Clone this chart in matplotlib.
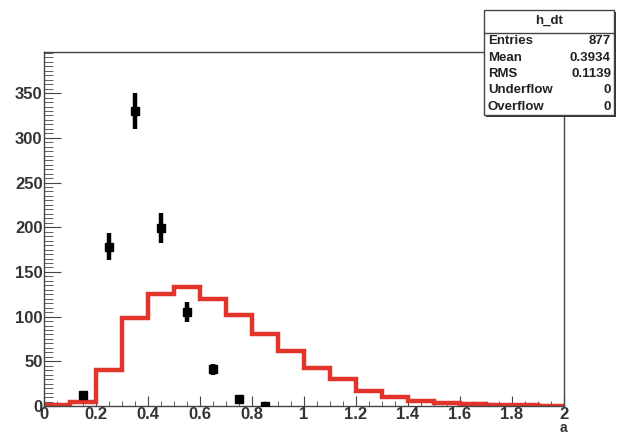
import matplotlib
matplotlib.use('Agg')
import matplotlib.pyplot as plt
from matplotlib.patches import Rectangle
from matplotlib.ticker import MultipleLocator
from matplotlib.transforms import ScaledTranslation

plt.rcParams['font.family'] = ['Liberation Sans']
plt.rcParams['font.weight'] = 'bold'

# red histogram, bins of 0.1 between 0 and 2
bin_edges = [i * 0.1 for i in range(21)]
mc_counts = [1, 4, 40, 99, 125, 133, 120, 102, 80, 61, 43, 30, 17, 10, 6, 3, 2, 1, 1, 0]

# black data points
data_x = [0.15, 0.25, 0.35, 0.45, 0.55, 0.65, 0.75, 0.85]
data_y = [12, 178, 330, 199, 105, 41, 8, 0]
data_err = [4, 15, 20, 17, 11, 6, 3, 0]

stats_title = 'h_dt'
stats_names = ['Entries', 'Mean', 'RMS', 'Underflow', 'Overflow']
stats_values = ['877', '0.3934', '0.1139', '0', '0']

W, H = 622, 436
fig = plt.figure(figsize=(W / 100, H / 100), dpi=100)
ax = fig.add_axes([44 / W, 1 - 406 / H, (564 - 44) / W, (406 - 52) / H])

ax.stairs(mc_counts, bin_edges, color='#e3342c', linewidth=3.2, zorder=2)
ax.errorbar(data_x, data_y, yerr=data_err, fmt='s', color='black', ms=6,
            elinewidth=3.2, capsize=0, zorder=3)

ax.set_xlim(0, 2)
ax.set_ylim(0, 396)
ax.xaxis.set_minor_locator(MultipleLocator(0.05))
ax.yaxis.set_major_locator(MultipleLocator(50))
ax.yaxis.set_minor_locator(MultipleLocator(5))
ax.set_xticks([0, 0.2, 0.4, 0.6, 0.8, 1, 1.2, 1.4, 1.6, 1.8, 2])
ax.set_xticklabels(['0', '0.2', '0.4', '0.6', '0.8', '1', '1.2', '1.4', '1.6', '1.8', '2'])

ax.tick_params(axis='both', which='both', direction='in', color='#444444',
               labelcolor='#333333', labelsize=12)
ax.tick_params(axis='x', which='major', length=7, pad=1)
ax.tick_params(axis='x', which='minor', length=3.5)
ax.tick_params(axis='y', which='major', length=12, pad=1)
ax.tick_params(axis='y', which='minor', length=6.5)
for s in ax.spines.values():
    s.set_color('#444444')
    s.set_linewidth(1.0)

# y "0" sits a touch higher, as in ROOT output
ylab0 = ax.get_yticklabels()[0]
ylab0.set_transform(ylab0.get_transform() + ScaledTranslation(0, 5 / 100, fig.dpi_scale_trans))

fig.text(563 / W, 0.002, 'a', ha='center', va='bottom', fontsize=10,
         color='#333333', fontweight='bold')

# stats box (ROOT style)
bx0, bx1, by0, by1 = 484, 614, 10, 115
fig.patches.append(Rectangle(((bx0 + 2) / W, 1 - (by1 + 2) / H), (bx1 - bx0) / W,
                             (by1 - by0) / H, transform=fig.transFigure,
                             facecolor='#333333', edgecolor='none', zorder=5))
fig.patches.append(Rectangle((bx0 / W, 1 - by1 / H), (bx1 - bx0) / W, (by1 - by0) / H,
                             transform=fig.transFigure, facecolor='white',
                             edgecolor='#444444', linewidth=1.0, zorder=6))
sep = 33
fig.add_artist(plt.Line2D([bx0 / W, bx1 / W], [1 - sep / H, 1 - sep / H],
                          color='#444444', linewidth=1.0, zorder=7))
fig.text((bx0 + bx1) / 2 / W, 1 - 21 / H, stats_title, ha='center', va='center',
         fontsize=9.5, color='#222222', zorder=8)
row_h = (by1 - sep) / len(stats_names)
for i, (n, v) in enumerate(zip(stats_names, stats_values)):
    yc = sep + row_h * (i + 0.5)
    fig.text((bx0 + 4) / W, 1 - yc / H, n, ha='left', va='center', fontsize=9.5,
             color='#222222', zorder=8)
    fig.text((bx1 - 3) / W, 1 - yc / H, v, ha='right', va='center', fontsize=9.5,
             color='#222222', zorder=8)

fig.savefig('out.png', dpi=100)
